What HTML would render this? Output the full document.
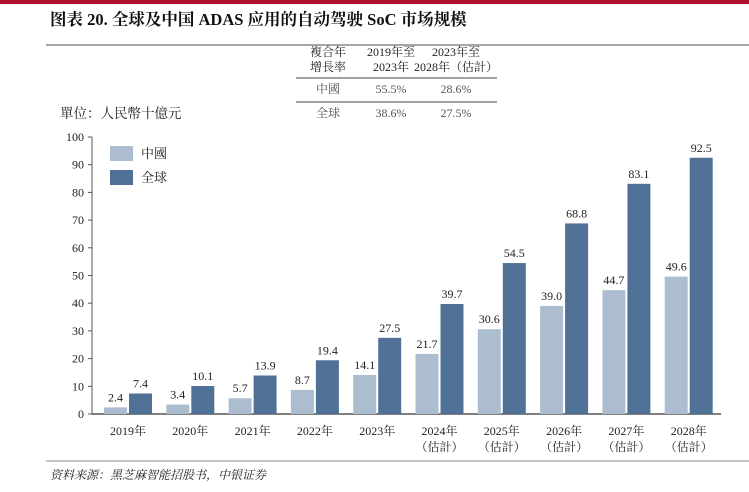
<!DOCTYPE html>
<html><head><meta charset="utf-8"><style>
body{margin:0;background:#fff;width:749px;height:487px;overflow:hidden;font-family:"Liberation Serif","Noto Serif CJK SC",serif;}
</style></head><body>
<svg width="749" height="487" viewBox="0 0 749 487" xmlns="http://www.w3.org/2000/svg" font-family="Liberation Serif, Noto Serif CJK SC, serif">
<rect x="0" y="0" width="749" height="4" fill="#b0102c"/>
<text x="50" y="25" font-size="16.5" font-weight="bold" fill="#111">图表 20. 全球及中国 ADAS 应用的自动驾驶 SoC 市场规模</text>
<line x1="46" y1="45" x2="749" y2="45" stroke="#888" stroke-width="1.5"/>
<g font-size="12" fill="#222" text-anchor="middle">
<text x="328" y="56">複合年</text><text x="328" y="71">增長率</text>
<text x="391" y="56">2019年至</text><text x="391" y="71">2023年</text>
<text x="456" y="56">2023年至</text><text x="456" y="71">2028年（估計）</text>
<line x1="296" y1="78" x2="497" y2="78" stroke="#444" stroke-width="1"/>
<text x="328" y="93" fill="#555">中國</text><text x="391" y="93" fill="#555">55.5%</text><text x="456" y="93" fill="#555">28.6%</text>
<line x1="296" y1="102" x2="497" y2="102" stroke="#444" stroke-width="1"/>
<text x="328" y="117" fill="#555">全球</text><text x="391" y="117" fill="#555">38.6%</text><text x="456" y="117" fill="#555">27.5%</text>
</g>
<text x="60" y="118" font-size="13.5" fill="#222">單位：人民幣十億元</text>
<g id="chart"></g>
<line x1="46" y1="461" x2="749" y2="461" stroke="#888" stroke-width="1"/>
<text x="50" y="479" font-size="12" font-style="italic" fill="#222">资料来源：黑芝麻智能招股书，中银证券</text>
</svg>
<script>
const categories=["2019年","2020年","2021年","2022年","2023年","2024年","2025年","2026年","2027年","2028年"];
const estimated=[false,false,false,false,false,true,true,true,true,true];
const chinaValues=[2.4,3.4,5.7,8.7,14.1,21.7,30.6,39.0,44.7,49.6];
const globalValues=[7.4,10.1,13.9,19.4,27.5,39.7,54.5,68.8,83.1,92.5];
const yTicks=[0,10,20,30,40,50,60,70,80,90,100];
const NS="http://www.w3.org/2000/svg";
const g=document.getElementById('chart');
const x0=92,x1=721,y0=414,yTop=137,ymax=100;
const y=v=>y0-(v/ymax)*(y0-yTop);
const step=(x1-x0-6)/categories.length;
const cx=i=>x0+13+23+step*i;
function mk(t,a){const e=document.createElementNS(NS,t);for(const k in a)e.setAttribute(k,a[k]);g.appendChild(e);return e;}
let ax=mk('line',{x1:x0,y1:yTop,x2:x0,y2:y0,stroke:'#555','stroke-width':1});


let bx=mk('line',{x1:x0,y1:y0,x2:x1,y2:y0,stroke:'#555','stroke-width':1.5});


yTicks.forEach(t=>{
 let l=mk('line',{x1:x0-4,y1:y(t),x2:x0,y2:y(t),stroke:'#555'});
 
 
 let tx=mk('text',{x:x0-8,y:y(t)+4,'font-size':12,'text-anchor':'end',fill:'#222'});
 tx.textContent=t;
 
 
});
categories.forEach((c,i)=>{
 const c0=cx(i),bw=23;
 let r1=mk('rect',{x:c0-bw-1,y:y(chinaValues[i]),width:bw,height:y0-y(chinaValues[i]),fill:'#adbdd0'});
 
 
 let r2=mk('rect',{x:c0+1,y:y(globalValues[i]),width:bw,height:y0-y(globalValues[i]),fill:'#4f7196'});
 
 
 let t1=mk('text',{x:c0-bw/2-1,y:y(chinaValues[i])-6,'font-size':12,'text-anchor':'middle',fill:'#222'});
 t1.textContent=chinaValues[i].toFixed(1);
 
 
 let t2=mk('text',{x:c0+bw/2+1,y:y(globalValues[i])-6,'font-size':12,'text-anchor':'middle',fill:'#222'});
 t2.textContent=globalValues[i].toFixed(1);
 
 
 let xl=mk('text',{x:c0,y:435,'font-size':12,'text-anchor':'middle',fill:'#222'});
 xl.textContent=c;
 
 
 if(estimated[i]){let e=mk('text',{x:c0,y:451,'font-size':12,'text-anchor':'middle',fill:'#222'});e.textContent='（估計）';
 
 }
});
[['中國','#adbdd0',146],['全球','#4f7196',170]].forEach(([n,col,yy])=>{
 let r=mk('rect',{x:110,y:yy,width:23,height:15,fill:col});
 
 
 let t=mk('text',{x:141,y:yy+12,'font-size':13,fill:'#222'});t.textContent=n;
 
 
});
</script>
</body></html>
